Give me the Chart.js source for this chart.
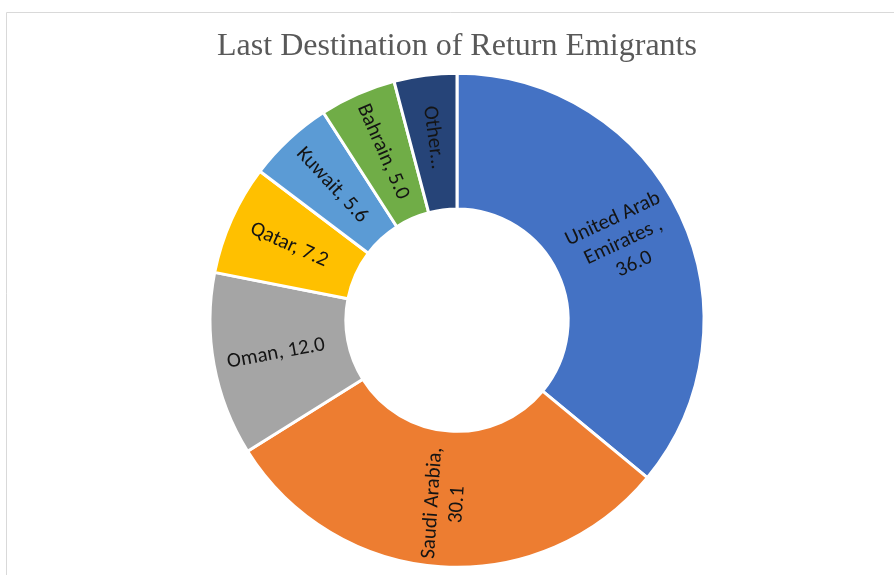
<!DOCTYPE html>
<html>
<head>
<meta charset="utf-8">
<script src="https://cdn.jsdelivr.net/npm/chart.js@4/dist/chart.umd.min.js"></script>
<style>
  html, body { margin: 0; padding: 0; background: #ffffff; }
  #wrap { position: relative; width: 894px; height: 575px; }
</style>
</head>
<body>
<div id="wrap"><canvas id="c" width="894" height="575"></canvas></div>
<script>
const chartTitle = 'Last Destination of Return Emigrants';
const categories = ['United Arab Emirates', 'Saudi Arabia', 'Oman', 'Qatar', 'Kuwait', 'Bahrain', 'Other'];
const shares = [36.0, 30.1, 12.0, 7.2, 5.6, 5.0, 4.1];
const labelText = ['United Arab\nEmirates ,\n36.0', 'Saudi Arabia,\n30.1', 'Oman, 12.0', 'Qatar, 7.2', 'Kuwait, 5.6', 'Bahrain, 5.0', 'Other...'];
const sliceColors = ['#4472C4', '#ED7D31', '#A5A5A5', '#FFC000', '#5B9BD5', '#70AD47', '#264478'];

const framePlugin = {
  id: 'frame',
  beforeDraw(chart) {
    const ctx = chart.ctx;
    ctx.save();
    ctx.strokeStyle = '#d9d9d9';
    ctx.lineWidth = 1;
    ctx.beginPath();
    ctx.moveTo(6.5, 575);
    ctx.lineTo(6.5, 12.5);
    ctx.lineTo(894, 12.5);
    ctx.stroke();
    ctx.restore();
  }
};

const sliceLabels = {
  id: 'sliceLabels',
  afterDatasetsDraw(chart) {
    const ctx = chart.ctx;
    const meta = chart.getDatasetMeta(0);
    ctx.save();
    ctx.font = '21px Carlito, Lato, sans-serif';
    ctx.fillStyle = '#141414';
    ctx.textAlign = 'center';
    ctx.textBaseline = 'middle';
    meta.data.forEach((arc, i) => {
      const p = arc.getProps(['x', 'y', 'startAngle', 'endAngle', 'innerRadius', 'outerRadius'], true);
      const a = (p.startAngle + p.endAngle) / 2;
      const r = (p.innerRadius + p.outerRadius) / 2 + 5;
      const cx = p.x + Math.cos(a) * r;
      const cy = p.y + Math.sin(a) * r;
      let rot = a;
      while (rot > Math.PI) rot -= 2 * Math.PI;
      while (rot <= -Math.PI) rot += 2 * Math.PI;
      if (rot > Math.PI / 2) rot -= Math.PI;
      if (rot < -Math.PI / 2) rot += Math.PI;
      const lines = labelText[i].split('\n');
      const lh = 25;
      ctx.save();
      ctx.translate(cx, cy);
      ctx.rotate(rot);
      lines.forEach((ln, k) => {
        ctx.fillText(ln, 0, (k - (lines.length - 1) / 2) * lh);
      });
      ctx.restore();
    });
    ctx.restore();
  }
};

new Chart(document.getElementById('c'), {
  type: 'doughnut',
  data: {
    labels: categories,
    datasets: [{
      data: shares,
      backgroundColor: sliceColors,
      borderColor: '#ffffff',
      borderWidth: 3,
      hoverOffset: 0,
      hoverBorderWidth: 3
    }]
  },
  options: {
    responsive: false,
    animation: false,
    events: [],
    cutout: '45%',
    radius: 247,
    layout: { padding: { left: 20, right: 0, top: 0, bottom: 8 } },
    plugins: {
      legend: { display: false },
      tooltip: { enabled: false },
      title: {
        display: true,
        text: chartTitle,
        color: '#595959',
        font: { family: '"Liberation Serif", "Times New Roman", serif', size: 32, weight: 'normal' },
        padding: { top: 27, bottom: 8 }
      }
    }
  },
  plugins: [framePlugin, sliceLabels]
});
</script>
</body>
</html>
